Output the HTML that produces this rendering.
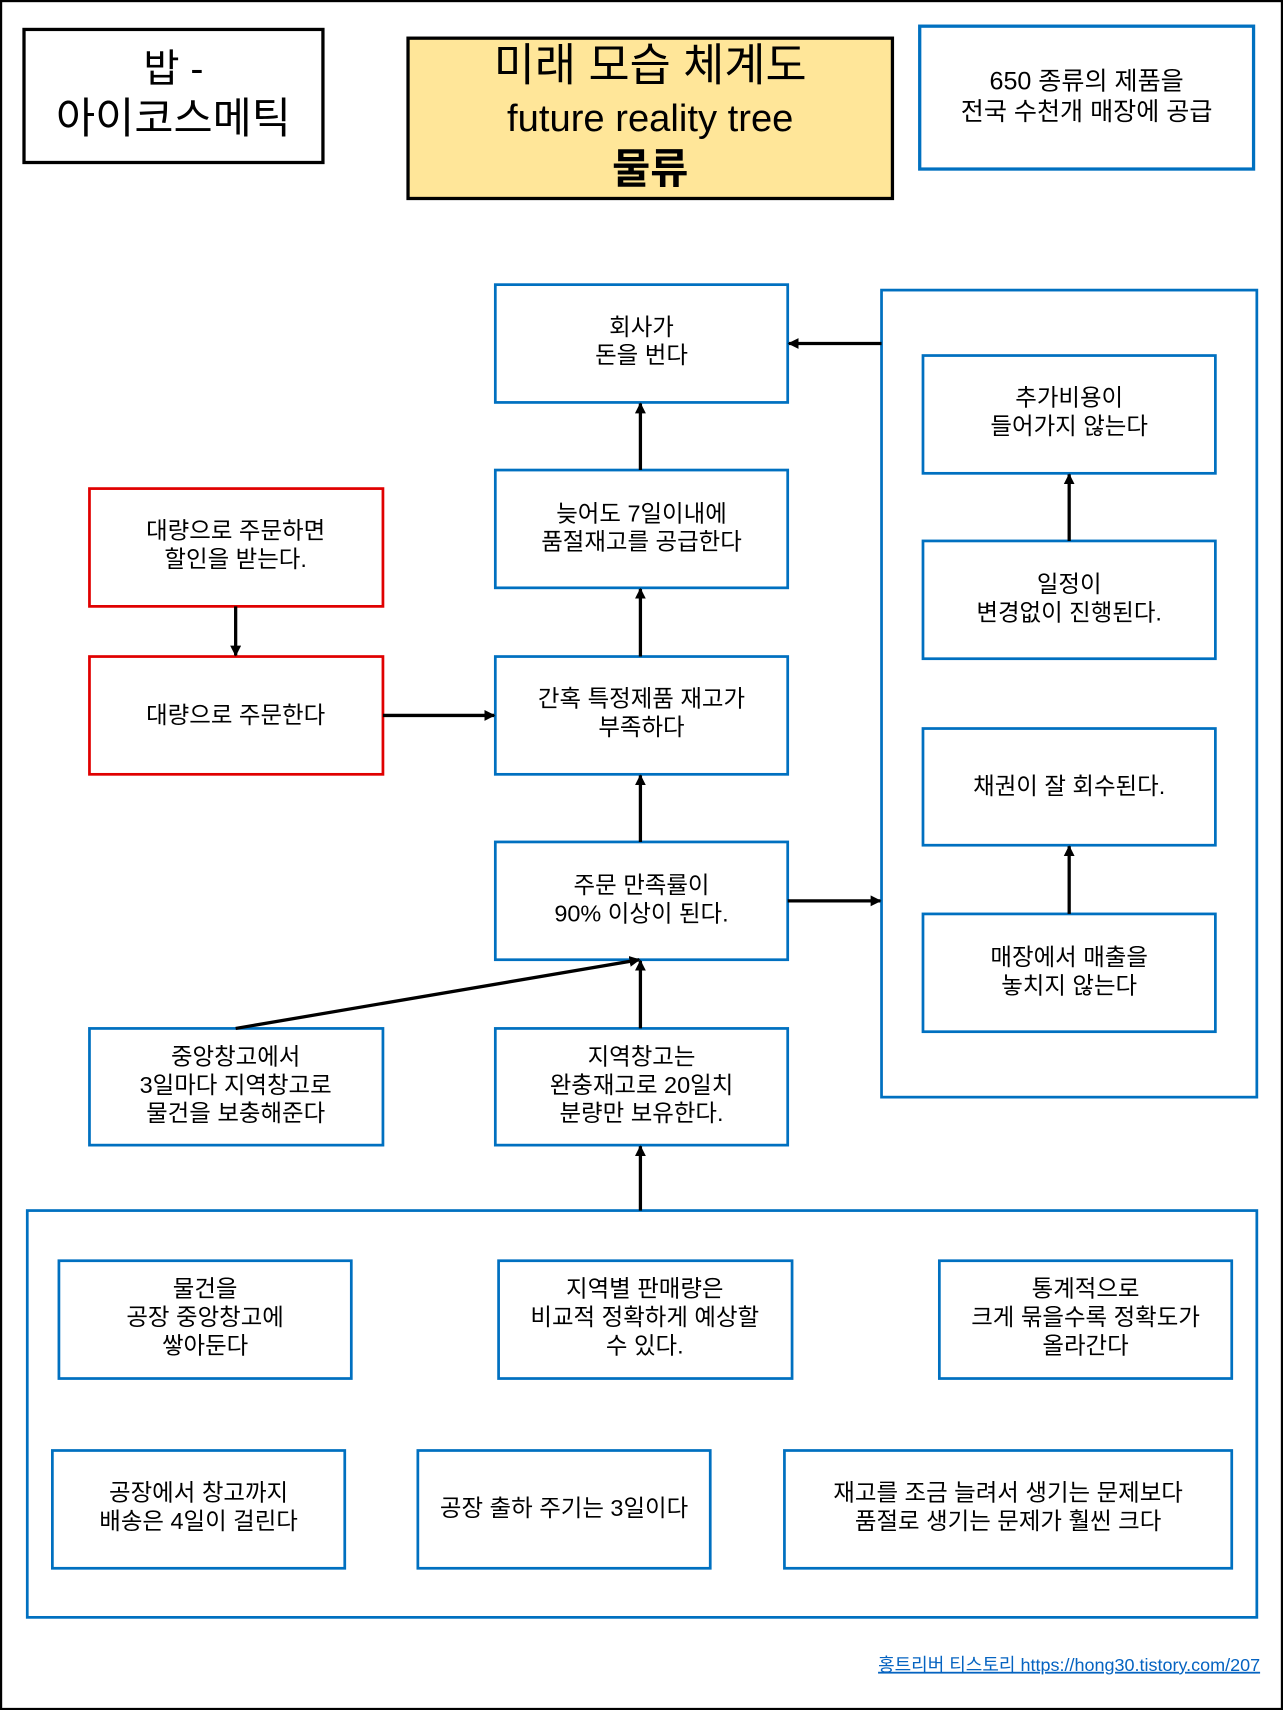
<!DOCTYPE html>
<html><head><meta charset="utf-8"><style>
html,body{margin:0;padding:0;background:#fff;width:1283px;height:1710px;overflow:hidden}
#w{transform:scale(1.091,1.0906);transform-origin:0 0;width:1176px;height:1568px}
text{font-family:"Liberation Sans","Noto Sans CJK KR",sans-serif;fill:#000}
</style></head><body><div id="w">
<svg width="1176" height="1568" viewBox="0 0 1176 1568" xmlns="http://www.w3.org/2000/svg">
<defs><marker id="a" markerWidth="10" markerHeight="10" refX="9" refY="5" orient="auto" markerUnits="userSpaceOnUse"><path d="M0,0 L10,5 L0,10z" fill="#000"/></marker></defs>
<rect x="1" y="1" width="1174" height="1566" fill="#fff" stroke="#000" stroke-width="2"/>
<rect x="22" y="27" width="274" height="122" fill="#fff" stroke="#000" stroke-width="3"/>
<text x="159" y="75" font-size="36" text-anchor="middle">밥 -</text>
<text x="159" y="122" font-size="39" text-anchor="middle">아이코스메틱</text>
<rect x="374" y="35" width="444" height="147" fill="#FFE699" stroke="#000" stroke-width="3"/>
<text x="596" y="74" font-size="41" text-anchor="middle">미래 모습 체계도</text>
<text x="596" y="120" font-size="35" text-anchor="middle">future reality tree</text>
<text x="596" y="168" font-size="38" font-weight="bold" text-anchor="middle">물류</text>
<rect x="843" y="24" width="306" height="131" fill="#fff" stroke="#0070C0" stroke-width="3"/>
<text x="996" y="82" font-size="23" text-anchor="middle">650 종류의 제품을</text>
<text x="996" y="110" font-size="23" text-anchor="middle">전국 수천개 매장에 공급</text>
<g fill="none" stroke-width="2.5">
<rect x="808" y="266" width="344" height="740" stroke="#0070C0"/>
<rect x="25" y="1110" width="1127" height="373" stroke="#0070C0"/>
<g fill="#fff" stroke="#0070C0">
<rect x="454" y="261" width="268" height="108"/><rect x="454" y="431" width="268" height="108"/>
<rect x="454" y="602" width="268" height="108"/><rect x="454" y="772" width="268" height="108"/>
<rect x="454" y="943" width="268" height="107"/><rect x="82" y="943" width="269" height="107"/>
<rect x="846" y="326" width="268" height="108"/><rect x="846" y="496" width="268" height="108"/>
<rect x="846" y="668" width="268" height="107"/><rect x="846" y="838" width="268" height="108"/>
<rect x="54" y="1156" width="268" height="108"/><rect x="457" y="1156" width="269" height="108"/>
<rect x="861" y="1156" width="268" height="108"/><rect x="48" y="1330" width="268" height="108"/>
<rect x="383" y="1330" width="268" height="108"/><rect x="719" y="1330" width="410" height="108"/>
</g>
<g fill="#fff" stroke="#E00000"><rect x="82" y="448" width="269" height="108"/><rect x="82" y="602" width="269" height="108"/></g>
</g>
<g stroke="#000" stroke-width="3" marker-end="url(#a)">
<line x1="587" y1="431" x2="587" y2="370"/><line x1="587" y1="602" x2="587" y2="540"/>
<line x1="587" y1="772" x2="587" y2="711"/><line x1="587" y1="943" x2="587" y2="881"/>
<line x1="587" y1="1110" x2="587" y2="1051"/><line x1="216" y1="556" x2="216" y2="601"/>
<line x1="351" y1="656" x2="453" y2="656"/><line x1="722" y1="826" x2="807" y2="826"/>
<line x1="808" y1="315" x2="723" y2="315"/><line x1="980" y1="496" x2="980" y2="435"/>
<line x1="980" y1="838" x2="980" y2="776"/><line x1="216" y1="943" x2="586" y2="880"/>
</g>
<g font-size="21.5" text-anchor="middle">
<text x="588" y="307">회사가</text><text x="588" y="333">돈을 번다</text>
<text x="588" y="478">늦어도 7일이내에</text><text x="588" y="504">품절재고를 공급한다</text>
<text x="588" y="648">간혹 특정제품 재고가</text><text x="588" y="674">부족하다</text>
<text x="588" y="819">주문 만족률이</text><text x="588" y="845">90% 이상이 된다.</text>
<text x="588" y="976">지역창고는</text><text x="588" y="1002">완충재고로 20일치</text><text x="588" y="1028">분량만 보유한다.</text>
<text x="216" y="976">중앙창고에서</text><text x="216" y="1002">3일마다 지역창고로</text><text x="216" y="1028">물건을 보충해준다</text>
<text x="216" y="494">대량으로 주문하면</text><text x="216" y="520">할인을 받는다.</text>
<text x="216" y="663">대량으로 주문한다</text>
<text x="980" y="372">추가비용이</text><text x="980" y="398">들어가지 않는다</text>
<text x="980" y="543">일정이</text><text x="980" y="569">변경없이 진행된다.</text>
<text x="980" y="728">채권이 잘 회수된다.</text>
<text x="980" y="885">매장에서 매출을</text><text x="980" y="911">놓치지 않는다</text>
<text x="188" y="1189">물건을</text><text x="188" y="1215">공장 중앙창고에</text><text x="188" y="1241">쌓아둔다</text>
<text x="591" y="1189">지역별 판매량은</text><text x="591" y="1215">비교적 정확하게 예상할</text><text x="591" y="1241">수 있다.</text>
<text x="995" y="1189">통계적으로</text><text x="995" y="1215">크게 묶을수록 정확도가</text><text x="995" y="1241">올라간다</text>
<text x="182" y="1376">공장에서 창고까지</text><text x="182" y="1402">배송은 4일이 걸린다</text>
<text x="517" y="1390">공장 출하 주기는 3일이다</text>
<text x="924" y="1376">재고를 조금 늘려서 생기는 문제보다</text><text x="924" y="1402">품절로 생기는 문제가 훨씬 크다</text>
</g>
<text x="1155" y="1532" font-size="16.5" text-anchor="end" style="fill:#0563C1" text-decoration="underline">홍트리버 티스토리 https://hong30.tistory.com/207</text>
</svg></div></body></html>
